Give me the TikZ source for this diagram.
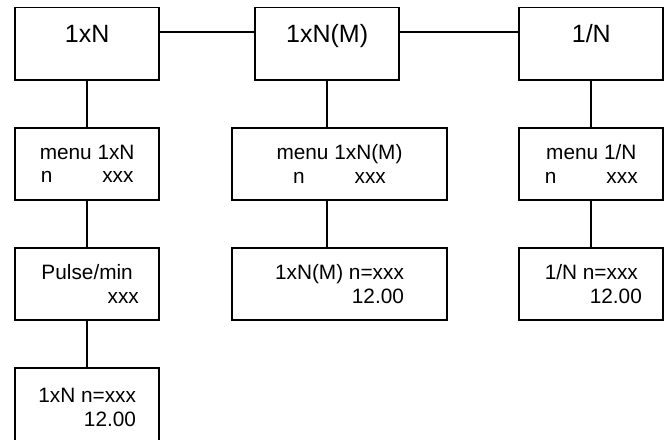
\documentclass[tikz,border=0pt]{standalone}
\usepackage{fontspec}
\setmainfont{Liberation Sans}
\usetikzlibrary{positioning}

\begin{document}
\begin{tikzpicture}[x=0.5pt,y=-0.5pt,
  box/.style={draw=black, line width=0.9pt, rectangle, inner sep=0pt, outer sep=0pt,
    minimum height=36.15pt, font=\fontsize{10.4}{11.85}\selectfont},
  narrowbox/.style={box, minimum width=72pt},
  widebox/.style={box, minimum width=107.8pt},
  modebox/.style={narrowbox, font=\fontsize{12.5}{15}\selectfont, text height=9pt, text depth=10.35pt},
  link/.style={line width=0.9pt}]
\useasboundingbox (0,0) rectangle (669,439);
\clip (0,0) rectangle (669,439);
\node[modebox] (t1) at (87.15,43.65) {1xN};
\node[modebox] (t2) at (327.15,43.65) {1xN(M)};
\node[modebox] (t3) at (591.3,43.65) {1/N};
\node[narrowbox, align=center] (m1) at (87.15,163.85) {menu 1xN\\n\hspace{25pt}xxx};
\node[widebox, align=center] (m2) at (339.5,163.85) {menu 1xN(M)\\n\hspace{25pt}xxx};
\node[narrowbox, align=center] (m3) at (591.3,163.85) {menu 1/N\\n\hspace{25pt}xxx};
\node[narrowbox, align=right] (v1) at (87.15,283.85) {Pulse/min\\xxx\hspace*{-3pt}};
\node[widebox, align=right] (v2) at (339.5,283.85) {1xN(M) n=xxx\\12.00};
\node[narrowbox, align=right] (v3) at (591.3,283.85) {1/N n=xxx\\12.00\hspace*{-2pt}};
\node[narrowbox, align=right, minimum height=40pt] (r1) at (87.15,407.7) {1xN n=xxx\\12.00};
\draw[link] ([yshift=5.7pt]t1.east) -- ([yshift=5.7pt]t2.west);
\draw[link] ([yshift=5.7pt]t2.east) -- ([yshift=5.7pt]t3.west);
\draw[link] (t1.south) -- (m1.north);
\draw[link] (m1.south) -- (v1.north);
\draw[link] (v1.south) -- (r1.north);
\draw[link] (t2.south) -- (t2.south |- m2.north);
\draw[link] (t2.south |- m2.south) -- (t2.south |- v2.north);
\draw[link] (t3.south) -- (m3.north);
\draw[link] (m3.south) -- (v3.north);
\end{tikzpicture}
\end{document}
